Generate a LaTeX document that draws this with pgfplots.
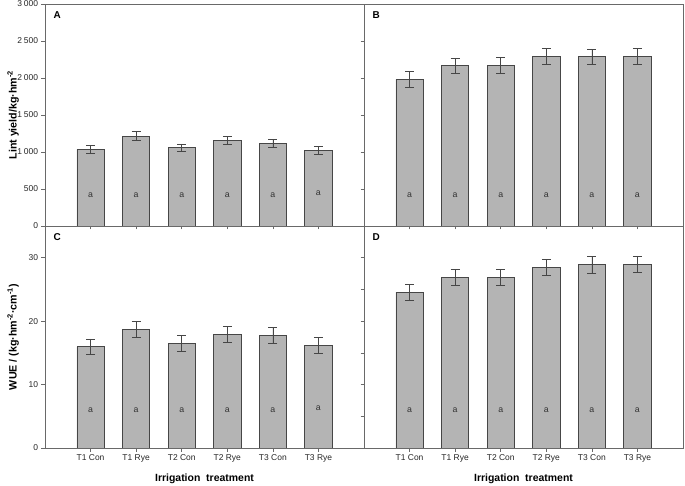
\documentclass[border=0pt]{standalone}
\usepackage{fontspec}
\setmainfont{Liberation Sans}
\usepackage{pgfplots}
\pgfplotsset{compat=1.18}
\definecolor{barfill}{RGB}{180,180,180}
\definecolor{baredge}{RGB}{70,70,70}
\definecolor{framec}{RGB}{105,105,105}
\tikzset{plabel/.style={font=\bfseries\fontsize{10}{12}\selectfont, anchor=center}}
\pgfplotsset{
 panel/.style={
  scale only axis, width=319bp, height=222bp,
  xmin=-1, xmax=6, xtick={0,...,5},
  axis line style={framec, line width=0.8pt},
  tick style={framec, line width=0.6pt},
  tick align=outside, major tick length=3.5bp,
  xtick pos=bottom, ytick pos=left,
  ticklabel style={font=\fontsize{8.5}{10}\selectfont, text=black!85},
  /pgf/number format/assume math mode=true,
  /pgf/number format/1000 sep={\hspace{0.22em}},
  xlabel style={font=\bfseries\fontsize{10.5}{12}\selectfont, at={(axis description cs:0.5,-0.14)}, anchor=center},
  ylabel style={font=\bfseries\fontsize{10.7}{12}\selectfont, at={(axis description cs:-0.1,0.5)}, anchor=center},
 },
 bars/.style={ybar, bar width=0.6, fill=barfill, draw=baredge, line width=0.7pt,
  error bars/.cd, y dir=both, y explicit,
  error bar style={baredge, line width=0.7pt},
  error mark options={rotate=90, mark size=4.5bp, baredge, line width=0.7pt}},
 letters/.style={draw=none, mark=none, nodes near coords, point meta=explicit symbolic,
  every node near coord/.append style={font=\fontsize{8.8}{10}\selectfont, text=black!80, anchor=center}},
}
\begin{document}
\begin{tikzpicture}
\useasboundingbox (0,0) rectangle (685bp,486bp);
% Panel A
\begin{axis}[panel, at={(45bp,260bp)}, anchor=south west,
  ymin=0, ymax=3000, ytick={0,500,...,3000}, xticklabels={},
  ylabel={Lint yield/kg·hm\textsuperscript{-2}}]
\addplot[bars] coordinates {(0,1036) +- (0,55) (1,1216) +- (0,58) (2,1058) +- (0,52) (3,1153) +- (0,55) (4,1113) +- (0,52) (5,1018) +- (0,56)};
\addplot[letters] coordinates {(0,420)[a] (1,420)[a] (2,420)[a] (3,420)[a] (4,420)[a] (5,440)[a]};
\node[plabel] at (rel axis cs:0.038,0.95) {A};
\end{axis}
% Panel B
\begin{axis}[panel, at={(364bp,260bp)}, anchor=south west,
  ymin=0, ymax=3000, ytick={0,500,...,3000}, xticklabels={}, yticklabels={}]
\addplot[bars] coordinates {(0,1982) +- (0,108) (1,2166) +- (0,105) (2,2171) +- (0,103) (3,2293) +- (0,104) (4,2288) +- (0,104) (5,2293) +- (0,108)};
\addplot[letters] coordinates {(0,420)[a] (1,420)[a] (2,420)[a] (3,420)[a] (4,420)[a] (5,420)[a]};
\node[plabel] at (rel axis cs:0.038,0.95) {B};
\end{axis}
% Panel C
\begin{axis}[panel, at={(45bp,38bp)}, anchor=south west,
  ymin=0, ymax=35, ytick={0,10,20,30},
  xticklabels={T1 Con, T1 Rye, T2 Con, T2 Rye, T3 Con, T3 Rye},
  xlabel={Irrigation\ \ treatment},
  ylabel={WUE / (kg·hm\textsuperscript{-2}·cm\textsuperscript{-1})}]
\addplot[bars] coordinates {(0,15.95) +- (0,1.25) (1,18.68) +- (0,1.27) (2,16.53) +- (0,1.24) (3,17.95) +- (0,1.26) (4,17.74) +- (0,1.27) (5,16.21) +- (0,1.26)};
\addplot[letters] coordinates {(0,6.0)[a] (1,6.0)[a] (2,6.0)[a] (3,6.0)[a] (4,6.0)[a] (5,6.25)[a]};
\node[plabel] at (rel axis cs:0.038,0.95) {C};
\end{axis}
% Panel D
\begin{axis}[panel, at={(364bp,38bp)}, anchor=south west,
  ymin=0, ymax=35, ytick={0,5,...,30}, yticklabels={},
  xticklabels={T1 Con, T1 Rye, T2 Con, T2 Rye, T3 Con, T3 Rye},
  xlabel={Irrigation\ \ treatment}]
\addplot[bars] coordinates {(0,24.58) +- (0,1.26) (1,26.90) +- (0,1.27) (2,26.95) +- (0,1.25) (3,28.42) +- (0,1.27) (4,28.90) +- (0,1.30) (5,29.00) +- (0,1.28)};
\addplot[letters] coordinates {(0,6.0)[a] (1,6.0)[a] (2,6.0)[a] (3,6.0)[a] (4,6.0)[a] (5,6.0)[a]};
\node[plabel] at (rel axis cs:0.038,0.95) {D};
\end{axis}
\end{tikzpicture}
\end{document}
